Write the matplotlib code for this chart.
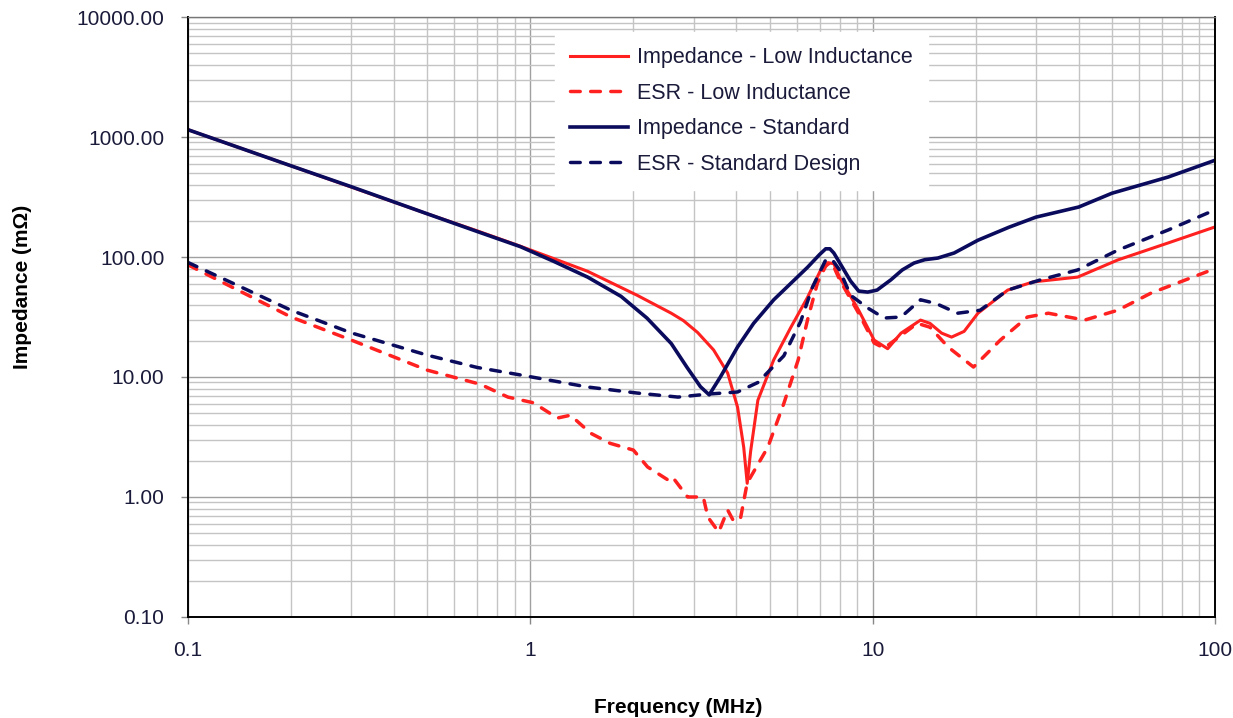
import numpy as np
import matplotlib.pyplot as plt
from matplotlib.ticker import LogLocator, FuncFormatter, NullFormatter

plt.rcParams['font.family'] = ['Liberation Sans', 'DejaVu Sans']

# --- data (frequency in MHz, impedance in mOhm) ---
f_imp_std = [0.1, 0.2, 0.3, 0.5, 0.7, 0.935, 1.17, 1.47, 1.84, 2.19, 2.58, 2.87,
             3.14, 3.33, 3.59, 4.03, 4.49, 5.14, 6.45, 7.0, 7.29, 7.5, 7.7, 8.2,
             8.62, 9.1, 9.67, 10.3, 11.3, 12.2, 13.2, 14.2, 15.5, 17.3, 20.3, 25,
             30, 40, 50, 73, 100]
z_imp_std = [1150, 575, 385, 229, 163, 122, 92, 68, 47, 31, 19, 12,
             8.3, 7.1, 10, 17.8, 28, 44, 82, 105, 117, 117, 108, 80,
             63, 52, 51, 53, 64.5, 78, 89, 95, 98, 108, 138, 177,
             215, 261, 340, 464, 640]

f_imp_low = [0.1, 0.2, 0.5, 0.7, 0.935, 1.17, 1.47, 2.05, 2.58, 2.8, 3.08, 3.43,
             3.77, 4.03, 4.2, 4.3, 4.4, 4.62, 5.14, 5.77, 6.45, 7.05, 7.5, 7.7,
             8.0, 9.1, 10.1, 11.06, 12.1, 13.8, 14.7, 15.9, 17.0, 18.5, 20.3,
             24.8, 29.4, 39.7, 52, 73, 100]
z_imp_low = [1150, 575, 229, 165, 123, 97, 76, 48, 34, 29.5, 23.5, 16.8,
             10.8, 5.6, 2.6, 1.3, 2.4, 6.4, 13.9, 26, 46, 78, 89, 88,
             68, 36, 20.3, 17.2, 23.2, 29.8, 28, 23.2, 21.5, 24, 34,
             53, 62, 68, 94.5, 131, 178]

f_esr_std = [0.1, 0.2, 0.3, 0.5, 0.7, 0.935, 1.47, 2.05, 2.7, 3.3, 4.03, 4.62,
             5.5, 6.16, 6.67, 7.29, 7.6, 8.0, 8.62, 9.67, 10.8, 12.1, 13.8, 15.3,
             17.7, 20.6, 24.8, 30.9, 39.7, 52, 73, 100]
z_esr_std = [90, 36, 23.3, 15.2, 12, 10.4, 8.25, 7.35, 6.8, 7.2, 7.5, 9,
             15, 29, 56, 94.5, 96, 78, 48, 37.6, 31, 31.6, 44, 41,
             34, 36, 53, 64.5, 78, 114, 168, 247]

f_esr_low = [0.1, 0.2, 0.3, 0.5, 0.714, 0.86, 1.02, 1.2, 1.31, 1.5, 1.71, 2.0,
             2.2, 2.52, 2.6, 2.88, 3.2, 3.3, 3.55, 3.77, 3.9, 4.1, 4.3, 4.94,
             5.5, 6.06, 6.45, 6.9, 7.36, 7.6, 8.0, 9.1, 10.1, 10.8, 11.8, 13.5,
             14.7, 16.6, 19.7, 23.6, 28.3, 32.6, 41.6, 52, 65, 100]
z_esr_low = [86, 31.6, 20.3, 11.4, 8.7, 6.8, 6.1, 4.55, 4.8, 3.4, 2.8, 2.46,
             1.78, 1.39, 1.47, 1.0, 1.0, 0.68, 0.51, 0.78, 0.65, 0.64, 1.31, 2.6,
             6.0, 13.9, 29.8, 61, 89, 90, 65, 34, 19.2, 17.4, 21, 28,
             26, 17.8, 12.1, 20.3, 31.6, 34, 29.8, 36, 50, 80]

RED = '#ff2020'
NAVY = '#0b0b5e'
DASH = (0, (2.8, 3.0))

fig = plt.figure(figsize=(12.33, 7.18), dpi=100)
ax = fig.add_axes([0.1525, 0.1407, 0.8329, 0.8356])

ax.plot(f_imp_low, z_imp_low, color=RED, lw=2.2, solid_joinstyle='round',
        label='Impedance - Low Inductance')
ax.plot(f_esr_low, z_esr_low, color=RED, lw=2.5, ls=DASH,
        dash_capstyle='round', label='ESR - Low Inductance')
ax.plot(f_imp_std, z_imp_std, color=NAVY, lw=2.6, solid_joinstyle='round',
        label='Impedance - Standard')
ax.plot(f_esr_std, z_esr_std, color=NAVY, lw=2.5, ls=DASH,
        dash_capstyle='round', label='ESR - Standard Design')

ax.set_xscale('log')
ax.set_yscale('log')
ax.set_xlim(0.1, 100)
ax.set_ylim(0.1, 10000)

ax.xaxis.set_major_locator(LogLocator(base=10, numticks=10))
ax.xaxis.set_minor_locator(LogLocator(base=10, subs=np.arange(2, 10), numticks=20))
ax.yaxis.set_major_locator(LogLocator(base=10, numticks=10))
ax.yaxis.set_minor_locator(LogLocator(base=10, subs=np.arange(2, 10), numticks=20))
ax.xaxis.set_major_formatter(FuncFormatter(lambda v, p: '%g' % v))
ax.yaxis.set_major_formatter(FuncFormatter(lambda v, p: '%.2f' % v))
ax.xaxis.set_minor_formatter(NullFormatter())
ax.yaxis.set_minor_formatter(NullFormatter())

ax.grid(True, which='major', color='#a0a0a0', lw=1.0)
ax.grid(True, which='minor', color='#c4c4c4', lw=1.0)
ax.set_axisbelow(True)

ax.tick_params(which='major', length=5, width=1, color='#888888',
               labelsize=15, pad=12, labelcolor='#1a1a3a')
ax.tick_params(which='minor', length=0)

for s in ['left', 'bottom', 'right']:
    ax.spines[s].set_color('black')
    ax.spines[s].set_linewidth(1.4)
ax.spines['top'].set_color('#777777')
ax.spines['top'].set_linewidth(1.0)

ax.set_xlabel('Frequency (MHz)', fontsize=15, fontweight='bold')
ax.xaxis.set_label_coords(0.477, -0.135)
ax.set_ylabel('Impedance (m\u03a9)', fontsize=15, fontweight='bold')
ax.yaxis.set_label_coords(-0.152, 0.55)

leg = ax.legend(loc='upper left', bbox_to_anchor=(0.3575, 0.975), borderaxespad=0,
                fontsize=15.5, frameon=True, fancybox=False, framealpha=1,
                edgecolor='white', facecolor='white', handlelength=2.7,
                handletextpad=0.4, borderpad=0.7, labelspacing=0.68)
for t in leg.get_texts():
    t.set_color('#1a1a3a')

fig.savefig('out.png', dpi=100)
